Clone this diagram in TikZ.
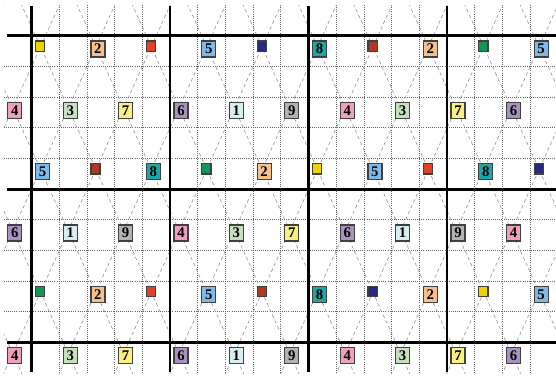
\documentclass[tikz,border=0pt]{standalone}
\usepackage{fontspec}
\setmainfont{Liberation Serif}
\usepackage{tikz}
\usepackage{xcolor}
\definecolor{CellCyan}{RGB}{214,238,242}
\definecolor{CellPeach}{RGB}{246,192,142}
\definecolor{CellSage}{RGB}{198,224,192}
\definecolor{CellPink}{RGB}{240,160,190}
\definecolor{CellSky}{RGB}{128,184,230}
\definecolor{CellLilac}{RGB}{170,146,192}
\definecolor{CellLemon}{RGB}{248,240,130}
\definecolor{CellTeal}{RGB}{28,166,166}
\definecolor{CellGray}{RGB}{178,178,178}
\definecolor{DotYellow}{RGB}{240,210,0}
\definecolor{DotRed}{RGB}{226,64,40}
\definecolor{DotBrown}{RGB}{176,56,32}
\definecolor{DotNavy}{RGB}{40,40,128}
\definecolor{DotGreen}{RGB}{16,150,90}
\tikzset{
  numbox/.style={rectangle, draw=black!75, line width=0.9pt, inner sep=0pt,
    anchor=north west, xshift=0.085cm, yshift=-0.115cm,
    minimum width=0.35cm, minimum height=0.40cm,
    font=\bfseries\fontsize{10.5}{10.5}\selectfont},
  dotbox/.style={numbox, minimum width=0.23cm, minimum height=0.26cm},
  d1/.style={numbox, fill=CellCyan},
  d2/.style={numbox, fill=CellPeach},
  d3/.style={numbox, fill=CellSage},
  d4/.style={numbox, fill=CellPink},
  d5/.style={numbox, fill=CellSky},
  d6/.style={numbox, fill=CellLilac},
  d7/.style={numbox, fill=CellLemon},
  d8/.style={numbox, fill=CellTeal},
  d9/.style={numbox, fill=CellGray},
  dyel/.style={dotbox, fill=DotYellow},
  dred/.style={dotbox, fill=DotRed},
  dbrn/.style={dotbox, fill=DotBrown},
  dnav/.style={dotbox, fill=DotNavy},
  dgrn/.style={dotbox, fill=DotGreen},
  gridline/.style={densely dotted, line width=0.5pt, color=black!60},
  latline/.style={dash pattern=on 2.5pt off 2pt, line width=0.4pt, color=black!45},
  boxline/.style={line width=2pt, color=black}
}
\begin{document}
\begin{tikzpicture}[x=0.6925cm, y=-0.76675cm]
  \useasboundingbox (-1.137,-1.167) rectangle (18.935,11.06);

  % Fine grid
  \foreach \m in {1,2,3,4,6,7,8,9,11,12,13,14,16,17,18}
    \draw[gridline] (\m,-1) -- (\m,11);
  \foreach \n in {1,2,3,4,6,7,8,9}
    \draw[gridline] (-1,\n) -- (18.935,\n);

  % Triangular lattice
  \begin{scope}
    \clip (-1,-1) rectangle (18.935,11);
    \foreach \k in {-4,...,10}
      \draw[latline] ({2*\k-0.854},-2) -- ({2*\k+6.146},12);
    \foreach \k in {-1,...,12}
      \draw[latline] ({2*\k+1.505},-2) -- ({2*\k-5.496},12);
  \end{scope}

  % Block borders
  \foreach \m in {0,5,10,15}
    \draw[boxline] (\m,-0.97) -- (\m,10.96);
  \foreach \n in {0,5,10}
    \draw[boxline] (-0.885,\n) -- (18.935,\n);

  % Row 1
  \node[dyel] (a1) at (0,0) {};   \node[d2] (a2) at (2,0) {2};
  \node[dred] (a3) at (4,0) {};   \node[d5] (a4) at (6,0) {5};
  \node[dnav] (a5) at (8,0) {};   \node[d8] (a6) at (10,0) {8};
  \node[dbrn] (a7) at (12,0) {};  \node[d2] (a8) at (14,0) {2};
  \node[dgrn] (a9) at (16,0) {};  \node[d5] (a10) at (18,0) {5};

  % Row 2
  \node[d4] (b1) at (-1,2) {4};   \node[d3] (b2) at (1,2) {3};
  \node[d7] (b3) at (3,2) {7};    \node[d6] (b4) at (5,2) {6};
  \node[d1] (b5) at (7,2) {1};    \node[d9] (b6) at (9,2) {9};
  \node[d4] (b7) at (11,2) {4};   \node[d3] (b8) at (13,2) {3};
  \node[d7] (b9) at (15,2) {7};   \node[d6] (b10) at (17,2) {6};

  % Row 3
  \node[d5] (c1) at (0,4) {5};    \node[dbrn] (c2) at (2,4) {};
  \node[d8] (c3) at (4,4) {8};    \node[dgrn] (c4) at (6,4) {};
  \node[d2] (c5) at (8,4) {2};    \node[dyel] (c6) at (10,4) {};
  \node[d5] (c7) at (12,4) {5};   \node[dred] (c8) at (14,4) {};
  \node[d8] (c9) at (16,4) {8};   \node[dnav] (c10) at (18,4) {};

  % Row 4
  \node[d6] (d1) at (-1,6) {6};   \node[d1] (d2) at (1,6) {1};
  \node[d9] (d3) at (3,6) {9};    \node[d4] (d4) at (5,6) {4};
  \node[d3] (d5) at (7,6) {3};    \node[d7] (d6) at (9,6) {7};
  \node[d6] (d7) at (11,6) {6};   \node[d1] (d8) at (13,6) {1};
  \node[d9] (d9) at (15,6) {9};   \node[d4] (d10) at (17,6) {4};

  % Row 5
  \node[dgrn] (e1) at (0,8) {};   \node[d2] (e2) at (2,8) {2};
  \node[dred] (e3) at (4,8) {};   \node[d5] (e4) at (6,8) {5};
  \node[dbrn] (e5) at (8,8) {};   \node[d8] (e6) at (10,8) {8};
  \node[dnav] (e7) at (12,8) {};  \node[d2] (e8) at (14,8) {2};
  \node[dyel] (e9) at (16,8) {};  \node[d5] (e10) at (18,8) {5};

  % Row 6
  \node[d4] (f1) at (-1,10) {4};  \node[d3] (f2) at (1,10) {3};
  \node[d7] (f3) at (3,10) {7};   \node[d6] (f4) at (5,10) {6};
  \node[d1] (f5) at (7,10) {1};   \node[d9] (f6) at (9,10) {9};
  \node[d4] (f7) at (11,10) {4};  \node[d3] (f8) at (13,10) {3};
  \node[d7] (f9) at (15,10) {7};  \node[d6] (f10) at (17,10) {6};

\end{tikzpicture}
\end{document}
